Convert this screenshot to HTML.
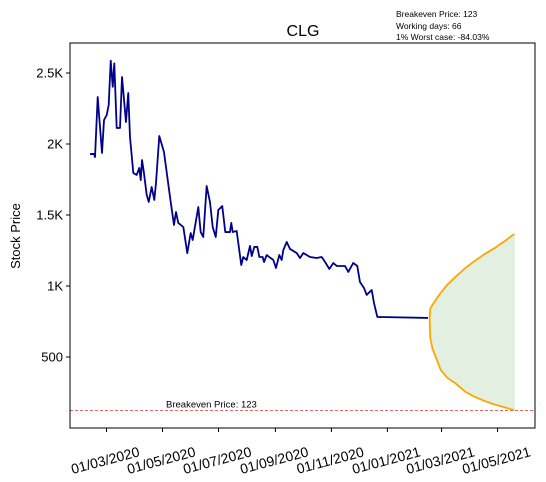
<!DOCTYPE html>
<html><head><meta charset="utf-8"><style>
html,body{margin:0;padding:0;background:#fff;}
svg{display:block;font-family:"Liberation Sans","DejaVu Sans",sans-serif;}
</style></head><body>
<svg id="chart" width="546" height="482" viewBox="0 0 546 482" xmlns="http://www.w3.org/2000/svg">
<rect x="0" y="0" width="546" height="482" fill="#fff"/>
<text x="303" y="36" font-size="16" text-anchor="middle">CLG</text>
<g font-size="8.5" fill="#000">
<text x="396" y="17">Breakeven Price: 123</text>
<text x="396" y="29">Working days: 66</text>
<text x="396" y="40">1% Worst case: -84.03%</text>
</g>
<text transform="translate(20,236) rotate(-90)" font-size="13" text-anchor="middle">Stock Price</text>
<g id="marks"></g>
<rect x="70" y="43" width="465" height="385" fill="none" stroke="#000" stroke-width="1"/>
<g id="axes"></g>
</svg>
<script>
// days since 2020-01-01
const histDays=[42,46.4,47.5,50.4,55.1,57.3,60.2,62.4,64.6,66.8,68.5,71.1,74.7,76.9,81.2,83.7,85.6,89.2,92.9,95.7,97.3,98.7,100.8,103.8,106,109.2,112.1,113.9,117.5,122.6,129.2,133.5,135.7,138.2,143.7,148,151.7,153.9,160,162.6,165.4,169.1,172.7,175.7,179,181.8,186.1,189.4,194.5,195.9,197.5,201.8,206.8,209,212.7,216.3,218.2,221,224.3,226.5,230.1,231.6,234.5,241.7,244.6,248.2,250.8,252.6,256.3,259.9,267.2,270.8,274.4,281.7,289,294.4,298.1,302.7,307.1,310.8,319.8,323.4,328.8,333.2,336.1,340.5,343.4,348.9,351.4,355,410.2];
const histPrice=[1929,1930,1908,2331,1937,2169,2204,2275,2587,2403,2568,2113,2113,2472,2155,2359,2049,1796,1782,1831,1746,1887,1796,1641,1592,1697,1606,1725,2056,1944,1627,1430,1521,1444,1415,1232,1373,1324,1556,1380,1345,1704,1592,1415,1345,1535,1563,1380,1380,1444,1380,1387,1148,1204,1183,1282,1211,1275,1275,1204,1204,1169,1218,1183,1127,1218,1183,1253,1310,1261,1232,1197,1232,1204,1197,1204,1169,1120,1162,1141,1141,1099,1162,1141,1028,986,937,972,880,782,775];
const fcDays=[412,412.6,415,420,424,431,440,451,461,472,483,494,504];
const fcUpper=[775,840,866,915,951,1007,1063,1127,1176,1225,1268,1317,1366];
const fcLower=[775,640,560,479,410,355,315,255,220,190,165,145,125];
const breakeven=123;
const yTicks=[500,1000,1500,2000,2500];
const yTickLabels=["500","1K","1.5K","2K","2.5K"];
const xTicks=[60,121,182,244,305,366,425,486];
const xTickLabels=["01/03/2020","01/05/2020","01/07/2020","01/09/2020","01/11/2020","01/01/2021","01/03/2021","01/05/2021"];

const NS="http://www.w3.org/2000/svg";
function X(d){return 106.5+(d-60)*0.918;}
function Y(v){return 428-v*0.142;}
const marks=document.getElementById('marks');
const axes=document.getElementById('axes');
function mk(tag,attrs,parent){const e=document.createElementNS(NS,tag);for(const k in attrs)e.setAttribute(k,attrs[k]);parent.appendChild(e);return e;}

let band="M"+fcDays.map((d,i)=>X(d)+","+Y(fcUpper[i])).join("L");
for(let i=fcDays.length-1;i>=0;i--)band+="L"+X(fcDays[i])+","+Y(fcLower[i]);
const bandEl=mk('path',{d:band+"Z",fill:"#e3f0e1",stroke:"#d4e8d2","stroke-width":"1"},marks);



const be=mk('line',{x1:70,x2:535,y1:Y(breakeven),y2:Y(breakeven),stroke:"#d33",'stroke-width':"0.7",'stroke-dasharray':"3,2"},marks);


const bt=mk('text',{x:166,y:Y(breakeven)-3,'font-size':"9.5"},marks);
bt.textContent="Breakeven Price: "+breakeven;



const hl=mk('polyline',{points:histDays.map((d,i)=>X(d)+","+Y(histPrice[i])).join(" "),fill:"none",stroke:"#00008b",'stroke-width':"1.8",'stroke-linejoin':"round"},marks);



const ul=mk('polyline',{points:fcDays.map((d,i)=>X(d)+","+Y(fcUpper[i])).join(" "),fill:"none",stroke:"#ffa500",'stroke-width':"1.8"},marks);


const ll=mk('polyline',{points:fcDays.map((d,i)=>X(d)+","+Y(fcLower[i])).join(" "),fill:"none",stroke:"#ffa500",'stroke-width':"1.8"},marks);



yTicks.forEach((v,i)=>{
  const t=mk('line',{x1:66,x2:70,y1:Y(v),y2:Y(v),stroke:"#000"},axes);
  
  
  const l=mk('text',{x:63,y:Y(v)+4.5,'font-size':"13",'text-anchor':"end"},axes);
  l.textContent=yTickLabels[i];
  
  
});
xTicks.forEach((d,i)=>{
  const x=X(d);
  const t=mk('line',{x1:x,x2:x,y1:428,y2:432,stroke:"#000"},axes);
  
  
  const l=mk('text',{transform:"translate("+x+",465) rotate(-15)",'font-size':"14",'text-anchor':"middle"},axes);
  l.textContent=xTickLabels[i];
  
  
});
</script>
</body></html>
